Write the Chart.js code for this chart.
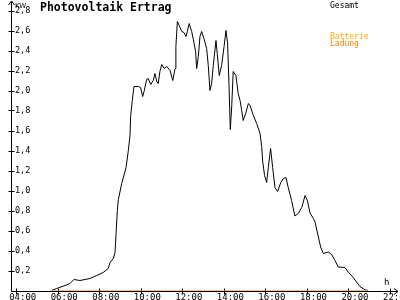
<!DOCTYPE html>
<html>
<head>
<meta charset="utf-8">
<script src="https://cdn.jsdelivr.net/npm/chart.js@4"></script>
<style>
    html, body { margin: 0; padding: 0; background: #fff; }
    #wrap { width: 400px; height: 300px; }
</style>
</head>
<body>
<div id="wrap"><canvas id="pvChart" width="400" height="300"></canvas></div>
<script>
// Gesamt (PV yield), hours of day and kW
const gesamtHours = [5.71, 5.95, 6.35, 6.59, 6.78, 7.07, 7.55, 7.88, 8.19, 8.43, 8.52, 8.68, 8.76, 8.81, 8.87, 8.92,
    9.08, 9.29, 9.40, 9.48, 9.51, 9.59, 9.67, 9.89, 9.99, 10.09, 10.17, 10.28, 10.36, 10.48, 10.60, 10.68, 10.77,
    10.84, 10.92, 11.01, 11.12, 11.25, 11.41, 11.54, 11.65, 11.69, 11.76, 11.85, 11.97, 12.08, 12.18, 12.24, 12.33,
    12.45, 12.53, 12.64, 12.69, 12.77, 12.85, 12.93, 13.04, 13.17, 13.25, 13.33, 13.41, 13.49, 13.62, 13.68, 13.78,
    13.89, 14.01, 14.10, 14.18, 14.25, 14.31, 14.38, 14.45, 14.58, 14.69, 14.78, 14.86, 14.93, 15.05, 15.18, 15.26,
    15.42, 15.58, 15.74, 15.82, 15.87, 15.96, 16.06, 16.14, 16.25, 16.35, 16.46, 16.59, 16.74, 16.86, 16.99, 17.10,
    17.26, 17.42, 17.58, 17.75, 17.91, 18.02, 18.15, 18.31, 18.39, 18.55, 18.66, 18.79, 19.03, 19.19, 19.35, 19.51,
    19.83, 19.99, 20.23, 20.39, 20.55, 20.79, 20.95];
const gesamtKw = [0, 0.02, 0.05, 0.07, 0.11, 0.10, 0.12, 0.15, 0.18, 0.22, 0.28, 0.32, 0.38, 0.57, 0.80, 0.91,
    1.07, 1.23, 1.40, 1.55, 1.74, 1.90, 2.04, 2.04, 2.03, 1.94, 2.00, 2.11, 2.12, 2.06, 2.10, 2.17, 2.09,
    2.07, 2.19, 2.26, 2.22, 2.24, 2.20, 2.10, 2.22, 2.44, 2.69, 2.65, 2.59, 2.58, 2.54, 2.59, 2.67,
    2.59, 2.51, 2.39, 2.22, 2.34, 2.54, 2.59, 2.52, 2.42, 2.25, 2.00, 2.07, 2.25, 2.50, 2.37, 2.15,
    2.25, 2.44, 2.60, 2.47, 2.04, 1.61, 1.85, 2.19, 2.15, 1.97, 1.90, 1.80, 1.70, 1.77, 1.87, 1.85,
    1.75, 1.67, 1.57, 1.44, 1.29, 1.15, 1.08, 1.23, 1.42, 1.23, 1.03, 0.99, 1.08, 1.12, 1.13, 1.03,
    0.90, 0.745, 0.77, 0.83, 0.95, 0.90, 0.775, 0.72, 0.685, 0.535, 0.435, 0.37, 0.385, 0.36, 0.30, 0.235,
    0.23, 0.185, 0.13, 0.085, 0.04, 0.007, 0];

// Batterie Ladung stays at zero
const ladungHours = [5.71, 20.84];
const ladungKw = [0, 0];

const xTickHours = [4, 6, 8, 10, 12, 14, 16, 18, 20, 22];
const xTickLabels = ["04:00", "06:00", "08:00", "10:00", "12:00", "14:00", "16:00", "18:00", "20:00", "22:00"];
const yTickValues = [0.2, 0.4, 0.6, 0.8, 1.0, 1.2, 1.4, 1.6, 1.8, 2.0, 2.2, 2.4, 2.6, 2.8];
const yTickLabels = ["0,2", "0,4", "0,6", "0,8", "1,0", "1,2", "1,4", "1,6", "1,8", "2,0", "2,2", "2,4", "2,6", "2,8"];

const toPoints = (xs, ys) => xs.map((x, i) => ({ x: x, y: ys[i] }));

// draws the arrow axes, ticks and texts like the original plot
const axesPlugin = {
    id: "pvAxes",
    beforeDatasetsDraw(chart) {
        const ctx = chart.ctx;
        const xs = chart.scales.x;
        const ys = chart.scales.y;
        const x0 = 11.5;
        const y0 = Math.round(ys.getPixelForValue(0)) + 0.5;
        ctx.save();
        ctx.strokeStyle = "#000";
        ctx.fillStyle = "#000";
        ctx.lineWidth = 1;
        ctx.beginPath();
        // y axis with arrow
        ctx.moveTo(x0, y0);
        ctx.lineTo(x0, 1);
        ctx.moveTo(x0 - 3, 5);
        ctx.lineTo(x0, 1);
        ctx.lineTo(x0 + 3, 5);
        // x axis with arrow
        ctx.moveTo(x0, y0);
        ctx.lineTo(398, y0);
        ctx.moveTo(394, y0 - 3);
        ctx.lineTo(398, y0);
        ctx.lineTo(394, y0 + 3);
        // y ticks
        yTickValues.forEach(v => {
            const py = Math.round(ys.getPixelForValue(v)) + 0.5;
            ctx.moveTo(x0 - 3, py);
            ctx.lineTo(x0 + 3, py);
        });
        // x ticks
        xTickHours.forEach(h => {
            const px = Math.round(xs.getPixelForValue(h)) + 0.5;
            ctx.moveTo(px, y0 - 3);
            ctx.lineTo(px, y0 + 3);
        });
        ctx.stroke();

        ctx.font = "8.5px 'DejaVu Sans Mono'";
        ctx.textAlign = "left";
        ctx.textBaseline = "middle";
        yTickValues.forEach((v, i) => {
            ctx.fillText(yTickLabels[i], 15, ys.getPixelForValue(v) + 0.5);
        });
        ctx.font = "9px 'DejaVu Sans Mono'";
        ctx.textAlign = "center";
        ctx.textBaseline = "alphabetic";
        xTickHours.forEach((h, i) => {
            ctx.fillText(xTickLabels[i], xs.getPixelForValue(h) + 6.5, 299.5);
        });

        // units
        ctx.font = "7px 'DejaVu Sans'";
        ctx.textAlign = "left";
        ctx.fillText("KW", 15, 7.5);
        ctx.font = "9px 'DejaVu Sans Mono'";
        ctx.fillText("h", 384, 285);

        // title
        ctx.font = "bold 11.5px 'DejaVu Sans Mono'";
        ctx.fillText("Photovoltaik Ertrag", 40, 11);

        // legend texts
        ctx.font = "8px 'DejaVu Sans Mono'";
        ctx.fillText("Gesamt", 330, 8);
        ctx.fillStyle = "#ffaa00";
        ctx.fillText("Batterie", 330, 39);
        ctx.fillStyle = "#ff8000";
        ctx.fillText("Ladung", 330, 46);
        ctx.restore();
    }
};

const ctx = document.getElementById("pvChart").getContext("2d");
new Chart(ctx, {
    type: "line",
    data: {
        datasets: [{
            label: "Gesamt",
            data: toPoints(gesamtHours, gesamtKw),
            borderColor: "#000",
            borderWidth: 1,
            pointRadius: 0,
            tension: 0
        }, {
            label: "Ladung",
            data: toPoints(ladungHours, ladungKw),
            borderColor: "#ff8000",
            borderWidth: 1,
            pointRadius: 0,
            tension: 0
        }]
    },
    options: {
        responsive: false,
        animation: false,
        layout: {
            padding: { left: 11, right: 2, top: 3, bottom: 9.5 }
        },
        scales: {
            x: { type: "linear", min: 3.75, max: 22.385, display: false },
            y: { type: "linear", min: 0, max: 2.875, display: false }
        },
        plugins: {
            legend: { display: false },
            tooltip: { enabled: false }
        }
    },
    plugins: [axesPlugin]
});
</script>
</body>
</html>
